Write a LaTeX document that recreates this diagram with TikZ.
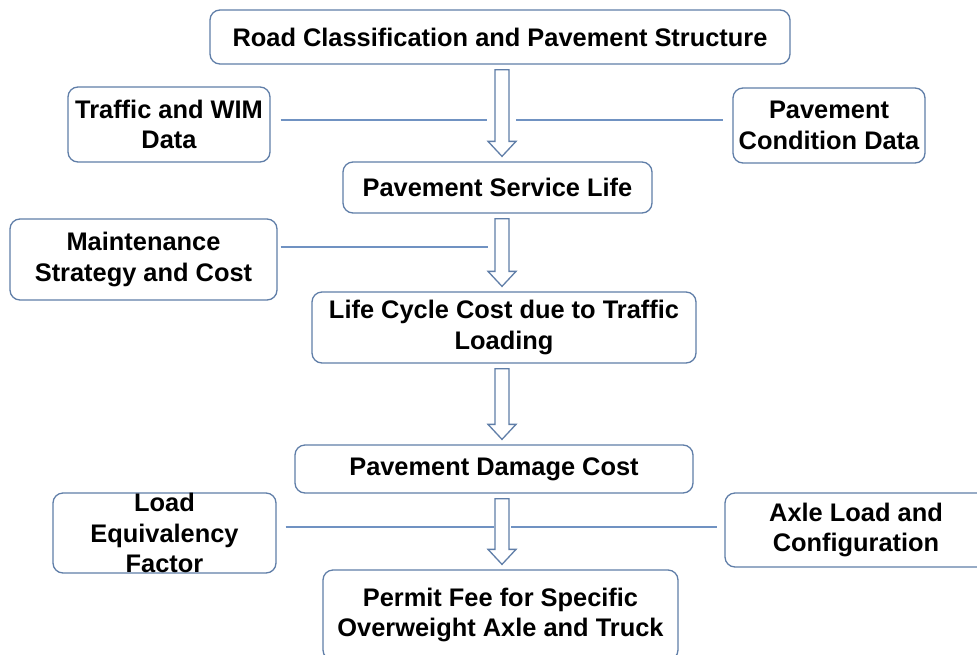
\documentclass[tikz,border=0pt]{standalone}
\usepackage{fontspec}
\setmainfont{Liberation Sans}
\usepackage{xcolor}
\usepackage{tikz}
\usetikzlibrary{calc}
\definecolor{boxline}{RGB}{96,126,168}
\definecolor{joinline}{RGB}{112,146,194}
\newcommand{\gap}{5pt}
\newcommand{\blockarrow}[2]{  % 2 nodes, upper and lower
        \draw[hollow] let \p1=(#1.south), \p2=(#2.north), \p3=(axis) in
            (\x3-7pt,\y1-\gap) -- (\x3+7pt,\y1-\gap) -- (\x3+7pt,\y2+20pt)
            -- (\x3+14pt,\y2+20pt) -- (\x3,\y2+\gap)%tip
            -- (\x3-14pt,\y2+20pt) -- (\x3-7pt,\y2+20pt) -- cycle;
}
\tikzset{
    stage/.style={draw=boxline, line width=1.3pt, rounded corners=10pt, fill=white,
        align=center, inner sep=0pt, font=\bfseries\fontsize{25.4}{30.5}\selectfont},
    hollow/.style={draw=boxline, line width=1.3pt, fill=white},
    link/.style={draw=joinline, line width=1.3pt}
}
\begin{document}
\begin{tikzpicture}[x=1pt, y=-1pt]
		\useasboundingbox[fill=white] (0,0) rectangle (977,654);
		\coordinate (axis) at (502,0);
		% main chain
		\node[stage, minimum width=580, minimum height=54] (road) at (500,37) {Road Classification and Pavement Structure};
		\node[stage, minimum width=309, minimum height=51] (life) at (497.5,187.5) {Pavement Service Life};
		\node[stage, minimum width=384, minimum height=71] (lcc) at (504,327.5) {Life Cycle Cost due to Traffic\\Loading};
		\node[stage, minimum width=398, minimum height=48] (damage) at (494,469) {Pavement Damage Cost};
		\node[stage, minimum width=355, minimum height=90] (permit) at (500.5,615) {Permit Fee for Specific\\Overweight Axle and Truck};
		% inputs
		\node[stage, minimum width=202, minimum height=75] (traffic) at (169,124.5) {Traffic and WIM\\Data};
		\node[stage, minimum width=192, minimum height=75] (cond) at (829,125.5) {Pavement\\Condition Data};
		\node[stage, minimum width=267, minimum height=81] (maint) at (143.5,259.5) {Maintenance\\Strategy and Cost};
		\node[stage, minimum width=223, minimum height=80, inner ysep=-6pt] (lef) at (164.5,533) {Load\\Equivalency\\Factor};
		\node[stage, minimum width=262, minimum height=74] (axle) at (856,530) {Axle Load and\\Configuration};
		% joins
		\coordinate (j1) at (502,120);
		\coordinate (j2) at (502,247);
		\coordinate (j4) at (502,527);
		\draw[link] ([xshift=10pt]traffic.east |- j1) -- ([xshift=-15pt]j1);
		\draw[link] ([xshift=14pt]j1) -- ([xshift=-9pt]cond.west |- j1);
		\draw[link] ([xshift=3pt]maint.east |- j2) -- ([xshift=-14pt]j2);
		\draw[link] ([xshift=9pt]lef.east |- j4) -- ([xshift=-8pt]j4);
		\draw[link] ([xshift=9pt]j4) -- ([xshift=-7pt]axle.west |- j4);
		% arrows
		\blockarrow{road}{life}
		\blockarrow{life}{lcc}
		\blockarrow{lcc}{damage}
		\blockarrow{damage}{permit}
\end{tikzpicture}
\end{document}
